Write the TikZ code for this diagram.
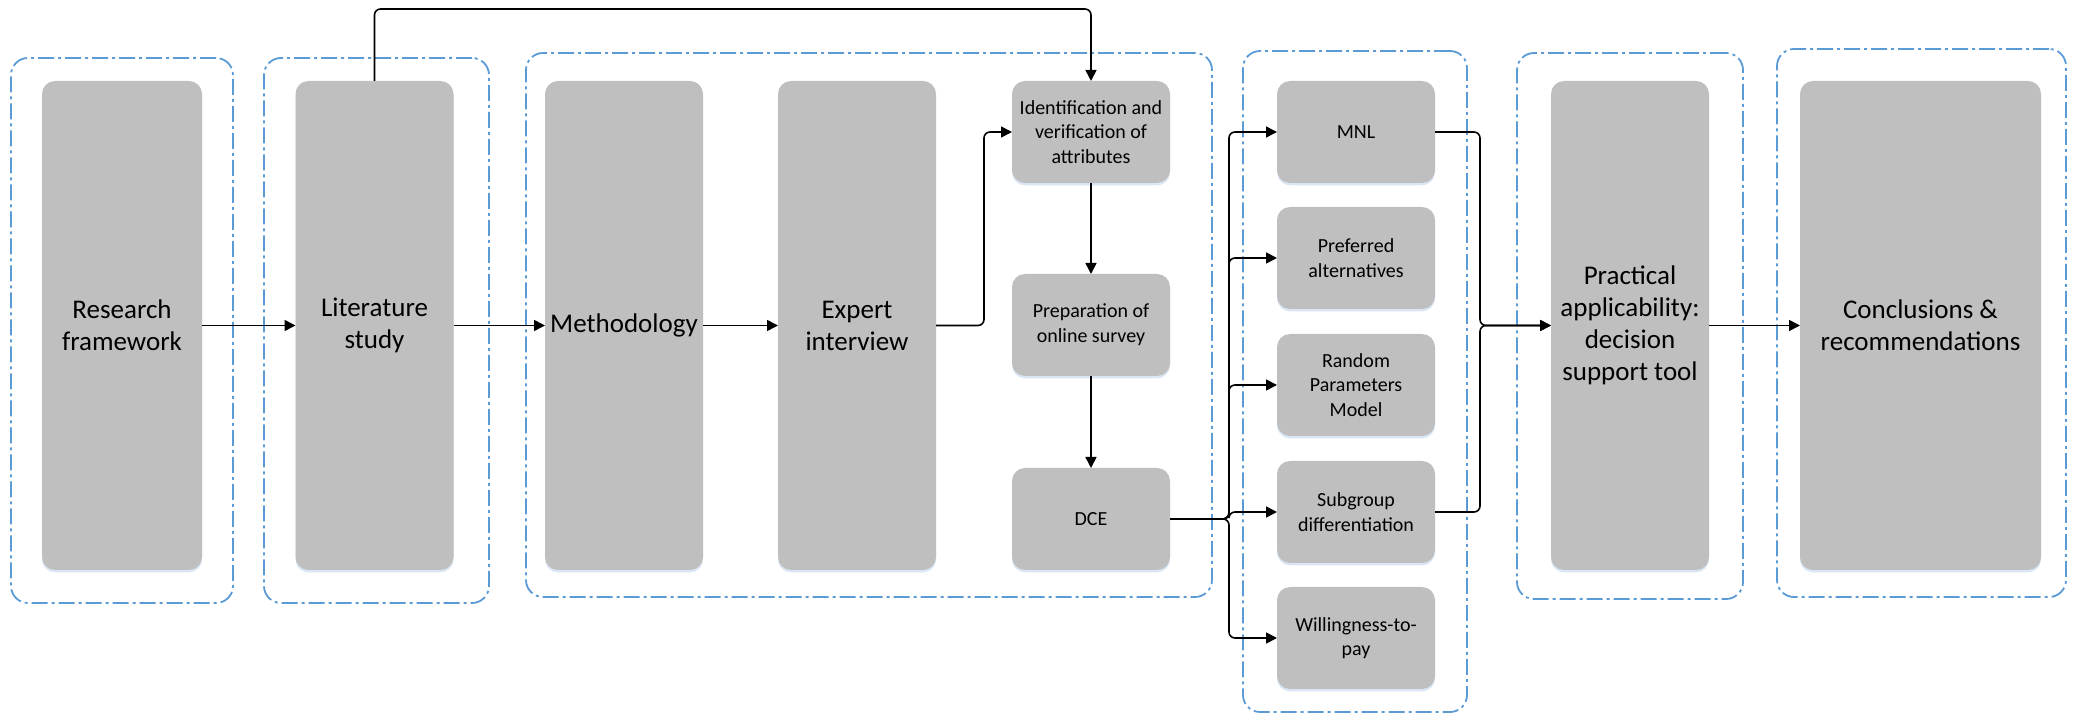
\documentclass[tikz,border=0pt]{standalone}
\usepackage{fontspec}
\setmainfont{Carlito}
\usetikzlibrary{arrows.meta,shadows}
\definecolor{boxgray}{HTML}{BFBFBF}
\definecolor{grpblue}{HTML}{5B9BD5}
\definecolor{glowblue}{HTML}{DAE6F4}
\begin{document}
\begin{tikzpicture}[x=0.5pt,y=-0.5pt,
  stage/.style={fill=boxgray, rounded corners=6.5pt, inner sep=2pt, outer sep=0pt, align=center,
    drop shadow={shadow xshift=0pt,shadow yshift=-1.2pt,fill=glowblue,opacity=1}},
  tall/.style={stage, minimum width=79pt, minimum height=244.5pt, font=\fontsize{13.5}{16}\selectfont},
  small/.style={stage, minimum width=79pt, minimum height=51pt, font=\fontsize{10}{12.3}\selectfont},
  group/.style={draw=grpblue, line width=0.9pt, rounded corners=8.5pt,
    dash pattern=on 8pt off 2pt on 1.5pt off 2pt, inner sep=0pt, outer sep=0pt},
  conn/.style={draw=black, line width=0.8pt, rounded corners=3pt,
    -{Triangle[length=5.5pt,width=5.5pt]}},
]
\useasboundingbox (0,0) rectangle (2078,715);

% dash-dot frames around each phase
\node[group, minimum width=111pt,   minimum height=272.5pt] (g1) at (122,330.5) {};
\node[group, minimum width=112.5pt, minimum height=272.5pt] (g2) at (376.5,330.5) {};
\node[group, minimum width=343pt,   minimum height=272pt]   (g3) at (869,325) {};
\node[group, minimum width=112pt,   minimum height=330.5pt] (g4) at (1355,381.5) {};
\node[group, minimum width=113pt,   minimum height=273pt]   (g5) at (1630,326) {};
\node[group, minimum width=144.5pt, minimum height=274pt]   (g6) at (1921.5,323) {};

% stages
\node[tall, minimum width=80pt] (research) at (122,325.5) {Research\\framework};
\node[tall] (lit) at (374.5,325.5) {Literature\\study};
\node[tall] (meth) at (624,325.5) {Methodology};
\node[tall] (expert) at (857,325.5) {Expert\\interview};
\node[small] (ident) at (1091,132) {Identification and\\verification of\\attributes};
\node[small] (prep) at (1091,325) {Preparation of\\online survey};
\node[small] (dce) at (1091,519) {DCE};
\node[small] (mnl) at (1356,132) {MNL};
\node[small] (pref) at (1356,258) {Preferred\\alternatives};
\node[small] (rpm) at (1356,385) {Random\\Parameters\\Model};
\node[small] (sub) at (1356,512) {Subgroup\\differentiation};
\node[small] (wtp) at (1356,638) {Willingness-to-\\pay};
\node[tall] (prac) at (1630,325.5) {Practical\\applicability:\\decision\\support tool};
\node[tall, minimum width=120.5pt] (concl) at (1920.5,325.5) {Conclusions \&\\recommendations};

% routing helpers
\coordinate (topy) at (0,9);
\coordinate (ebend) at (984,0);
\coordinate (lbus) at (1229,0);
\coordinate (rbus) at (1480,0);

% connectors
\draw[conn] (research.east) -- (lit.west);
\draw[conn] (lit.east) -- (meth.west);
\draw[conn] (meth.east) -- (expert.west);
\draw[conn] (lit.north) -- (lit.north |- topy) -- (ident.north |- topy) -- (ident.north);
\draw[conn] (expert.east) -- (ebend |- expert.east) |- (ident.west);
\draw[conn] (ident.south) -- (prep.north);
\draw[conn] (prep.south) -- (dce.north);
\foreach \t in {mnl,pref,rpm,sub,wtp}
  \draw[conn] (dce.east) -- (lbus |- dce.east) |- (\t.west);
\draw[conn] (mnl.east) -- (rbus |- mnl.east) |- (prac.west);
\draw[conn] (sub.east) -- (rbus |- sub.east) |- (prac.west);
\draw[conn] (prac.east) -- (concl.west);
\end{tikzpicture}
\end{document}
